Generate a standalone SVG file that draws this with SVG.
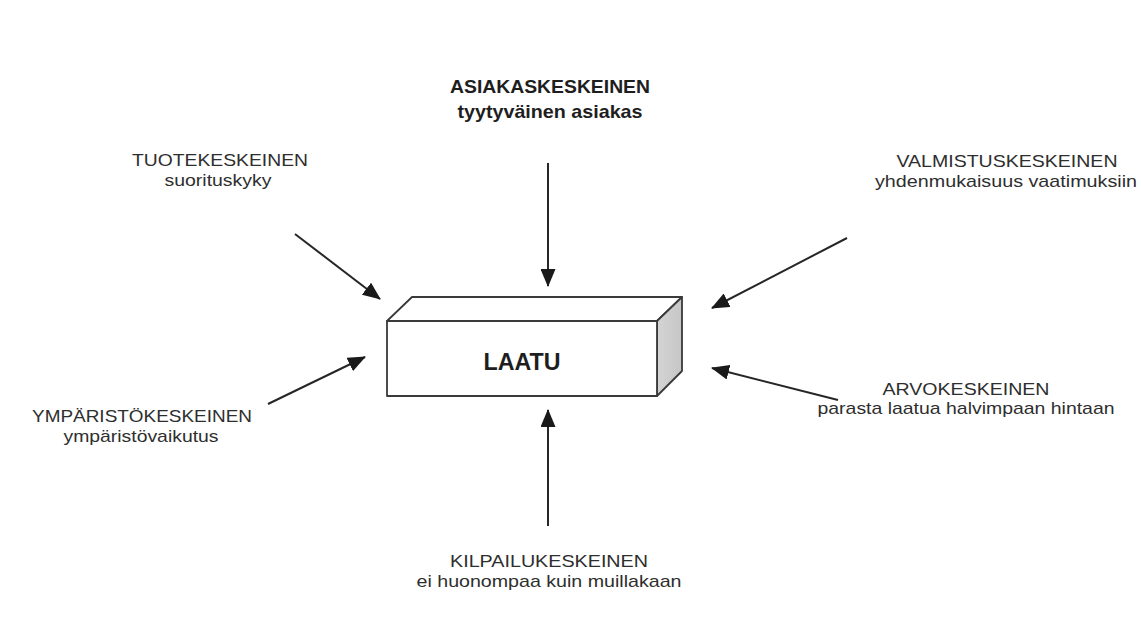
<svg xmlns="http://www.w3.org/2000/svg" width="1141" height="619" viewBox="0 0 1141 619">
  <style>
    .lbl { font-family: "Liberation Sans", Arial, sans-serif; fill: #2e2e2e; text-anchor: middle; }
    .reg { font-size: 17px; }
    .bold { font-size: 18.5px; font-weight: bold; fill: #1e1e1e; }
    .main { font-size: 24px; font-weight: bold; fill: #1e1e1e; }
    .edge { stroke: #262626; stroke-width: 2; fill: none; marker-end: url(#head); }
    .box { stroke: #3a3a3a; stroke-width: 1.8; stroke-linejoin: round; }
  </style>
  <defs>
    <marker id="head" viewBox="0 0 18 15" refX="17" refY="7.5" markerWidth="18" markerHeight="15" markerUnits="userSpaceOnUse" orient="auto">
      <path d="M0,0 L18,7.5 L0,15 Z" fill="#1a1a1a"/>
    </marker>
    <linearGradient id="side" x1="0" y1="0" x2="1" y2="0">
      <stop offset="0" stop-color="#d4d4d4"/>
      <stop offset="1" stop-color="#c6c6c6"/>
    </linearGradient>
  </defs>

  <rect width="1141" height="619" fill="#ffffff"/>

  <!-- central block -->
  <g id="laatu">
    <path class="box" d="M387,321 L412,297 L682,297 L657,321 Z" fill="#ffffff"/>
    <path class="box" d="M657,321 L682,297 L682,371 L657,396 Z" fill="url(#side)"/>
    <rect class="box" x="387" y="321" width="270" height="75" fill="#ffffff"/>
    <text class="lbl main" x="522" y="370" textLength="77" lengthAdjust="spacingAndGlyphs">LAATU</text>
  </g>

  <g id="asiakas">
    <text class="lbl bold" x="550" y="93" textLength="200" lengthAdjust="spacingAndGlyphs">ASIAKASKESKEINEN</text>
    <text class="lbl bold" x="550" y="118" textLength="185" lengthAdjust="spacingAndGlyphs">tyytyväinen asiakas</text>
  </g>

  <g id="tuote">
    <text class="lbl reg" x="220" y="166" textLength="176" lengthAdjust="spacingAndGlyphs">TUOTEKESKEINEN</text>
    <text class="lbl reg" x="218" y="186" textLength="107" lengthAdjust="spacingAndGlyphs">suorituskyky</text>
  </g>

  <g id="valmistus">
    <text class="lbl reg" x="1007" y="167" textLength="221" lengthAdjust="spacingAndGlyphs">VALMISTUSKESKEINEN</text>
    <text class="lbl reg" x="1006" y="187" textLength="262" lengthAdjust="spacingAndGlyphs">yhdenmukaisuus vaatimuksiin</text>
  </g>

  <g id="ymparisto">
    <text class="lbl reg" x="142" y="422" textLength="220" lengthAdjust="spacingAndGlyphs">YMPÄRISTÖKESKEINEN</text>
    <text class="lbl reg" x="141" y="442" textLength="155" lengthAdjust="spacingAndGlyphs">ympäristövaikutus</text>
  </g>

  <g id="arvo">
    <text class="lbl reg" x="966" y="395" textLength="167" lengthAdjust="spacingAndGlyphs">ARVOKESKEINEN</text>
    <text class="lbl reg" x="966" y="414" textLength="297" lengthAdjust="spacingAndGlyphs">parasta laatua halvimpaan hintaan</text>
  </g>

  <g id="kilpailu">
    <text class="lbl reg" x="549" y="567" textLength="198" lengthAdjust="spacingAndGlyphs">KILPAILUKESKEINEN</text>
    <text class="lbl reg" x="549" y="587" textLength="265" lengthAdjust="spacingAndGlyphs">ei huonompaa kuin muillakaan</text>
  </g>

  <!-- arrows pointing into the block -->
  <g id="connectors">
    <line class="edge" x1="548" y1="163" x2="548" y2="286"/>
    <line class="edge" x1="295" y1="234" x2="380" y2="299"/>
    <line class="edge" x1="847" y1="238" x2="712" y2="308"/>
    <line class="edge" x1="268" y1="404" x2="365" y2="357"/>
    <line class="edge" x1="838" y1="400" x2="712" y2="368"/>
    <line class="edge" x1="548" y1="526" x2="548" y2="410"/>
  </g>
</svg>
